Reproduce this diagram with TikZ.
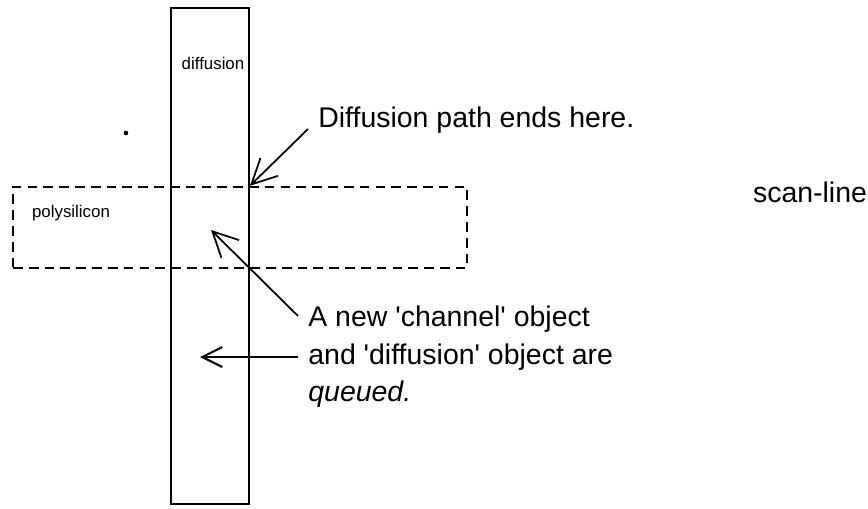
\documentclass[tikz,border=0pt]{standalone}
\usepackage{fontspec}
\setmainfont{Liberation Sans}
\usetikzlibrary{arrows.meta}

\begin{document}
\begin{tikzpicture}[x=0.02cm,y=-0.02cm,
  layerbox/.style={draw,line width=1.1pt,inner sep=0pt},
  tag/.style={font=\fontsize{9.6pt}{11pt}\selectfont,inner sep=0pt},
  note/.style={font=\fontsize{16.2pt}{21.3pt}\selectfont,inner sep=0.2cm},
  arr/.style={-{Straight Barb[length=0.5cm,width=0.5cm]},line width=1pt},
  shortarr/.style={-{Straight Barb[length=0.4cm,width=0.4cm]},line width=1.2pt}]
\useasboundingbox (0,0) rectangle (868,508);

% diffusion strip and polysilicon strip
\node[layerbox,minimum width=1.56cm,minimum height=9.92cm] (diff) at (210,256) {};
\node[layerbox,line width=1.4pt,dash pattern=on 5.5pt off 3.5pt,
      minimum width=9.08cm,minimum height=1.62cm] (poly) at (240,227.5) {};
\node[tag] (difflabel) at (213,63) {diffusion};
\node[tag] (polylabel) at (71,213) {polysilicon};

\coordinate (end) at (diff.east |- poly.north);
\coordinate (chan) at (211,230);
\coordinate (left) at (200,357);

% notes
\node[note,anchor=west] (ends) at (308,120) {Diffusion path ends here.};
\node[note,anchor=west,align=left] (queue) at (298,357)
  {A new \textquotesingle channel\textquotesingle{} object\\
   and \textquotesingle diffusion\textquotesingle{} object are\\
   \textit{queued.}};
\node[note] (scan) at (810,192) {scan-line};

\fill (126,133) circle[radius=1.3pt];

\draw[arr] ([yshift=-0.18cm]ends.west) -- (end);
\draw[arr] ([yshift=-0.4cm]queue.north west) -- (chan);
\draw[shortarr] (queue.west) -- (left);
\end{tikzpicture}
\end{document}
